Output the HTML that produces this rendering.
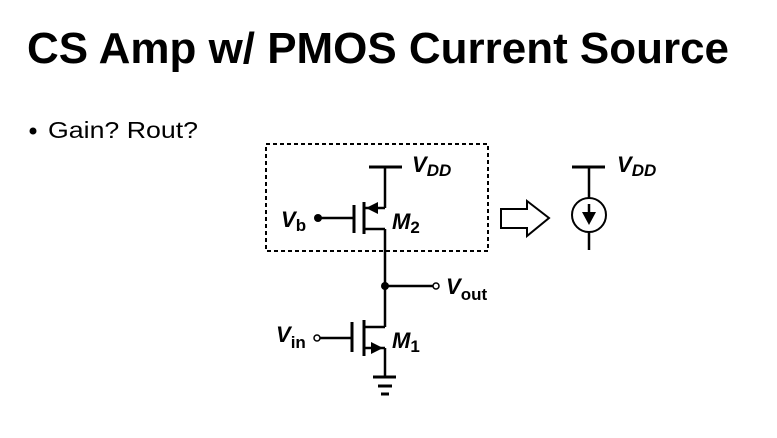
<!DOCTYPE html>
<html><head><style>
body{margin:0;width:777px;height:438px;background:#fff;overflow:hidden;position:relative;font-family:"Liberation Sans",sans-serif}
</style></head><body>
<svg width="777" height="438" style="position:absolute;left:0;top:0" font-family="Liberation Sans,sans-serif">
<text x="27" y="63" font-size="44" font-weight="bold" textLength="702" lengthAdjust="spacingAndGlyphs">CS Amp w/ PMOS Current Source</text>
<circle cx="33" cy="131" r="3.5" fill="#000"/>
<text x="48" y="138" font-size="23" textLength="150" lengthAdjust="spacingAndGlyphs">Gain? Rout?</text>
<g font-weight="bold" font-style="italic">
<g stroke="#000" stroke-width="2.5" fill="none">
<rect x="266" y="144" width="222" height="107" stroke-dasharray="4,3" stroke-width="2"/>
<line x1="369" y1="167" x2="402" y2="167" stroke-width="3"/>
<line x1="385" y1="167" x2="385" y2="208"/>
<line x1="364" y1="208" x2="385" y2="208"/>
<line x1="364" y1="202" x2="364" y2="234" stroke-width="3"/>
<line x1="354" y1="205" x2="354" y2="233" stroke-width="3"/>
<line x1="318" y1="218" x2="354" y2="218"/>
<line x1="364" y1="229" x2="385" y2="229"/>
<line x1="385" y1="229" x2="385" y2="327"/>
<line x1="385" y1="286" x2="433" y2="286"/>
<line x1="364" y1="327" x2="385" y2="327"/>
<line x1="364" y1="320" x2="364" y2="356" stroke-width="3"/>
<line x1="352" y1="322" x2="352" y2="352" stroke-width="3"/>
<line x1="320" y1="338" x2="352" y2="338"/>
<line x1="364" y1="348" x2="385" y2="348"/>
<line x1="385" y1="348" x2="385" y2="377"/>
<line x1="373" y1="377" x2="396" y2="377" stroke-width="3"/>
<line x1="378" y1="386" x2="392" y2="386" stroke-width="3"/>
<line x1="381" y1="394" x2="389" y2="394" stroke-width="3"/>
<circle cx="436" cy="286" r="3" stroke-width="1.5" fill="#fff"/>
<circle cx="317" cy="338" r="3" stroke-width="1.5" fill="#fff"/>
<line x1="572" y1="167" x2="605" y2="167" stroke-width="3"/>
<line x1="589" y1="167" x2="589" y2="198"/>
<circle cx="589" cy="215" r="17" stroke-width="2"/>
<line x1="589" y1="232" x2="589" y2="250"/>
<line x1="589" y1="204" x2="589" y2="214"/>
<path d="M501 209 L527 209 L527 201 L549 218 L527 236 L527 228 L501 228 Z" stroke-width="2"/>
</g>
<g fill="#000">
<circle cx="318" cy="218" r="4"/>
<circle cx="385" cy="286" r="4"/>
<path d="M366 208 L378 202 L378 214 Z"/>
<path d="M383 348 L371 342 L371 354 Z"/>
<path d="M582 212 L596 212 L589 225 Z"/>
</g>
<g fill="#000" font-size="22">
<text x="412" y="172">V<tspan font-size="17" dy="4">DD</tspan></text>
<text x="617" y="172">V<tspan font-size="17" dy="4">DD</tspan></text>
<text x="281" y="227">V<tspan font-size="17" dy="4" font-style="normal">b</tspan></text>
<text x="392" y="229">M<tspan font-size="17" dy="4" font-style="normal">2</tspan></text>
<text x="392" y="348">M<tspan font-size="17" dy="4" font-style="normal">1</tspan></text>
<text x="446" y="294">V<tspan font-size="17" dy="6" font-style="normal">out</tspan></text>
<text x="276" y="342">V<tspan font-size="17" dy="6" font-style="normal">in</tspan></text>
</g>
</g>
</svg>
</body></html>
